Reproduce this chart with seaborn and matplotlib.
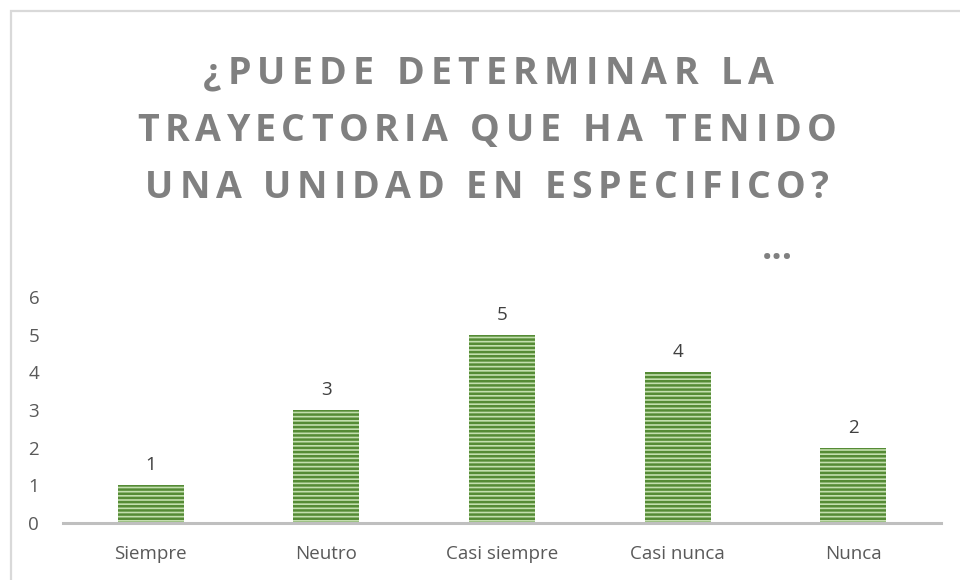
import matplotlib
matplotlib.use("Agg")
import matplotlib.pyplot as plt
import seaborn as sns
import pandas as pd
from matplotlib.patches import Rectangle
from matplotlib.font_manager import FontProperties

categories = ["Siempre", "Neutro", "Casi siempre", "Casi nunca", "Nunca"]
values = [1, 3, 5, 4, 2]
yticks = [0, 1, 2, 3, 4, 5, 6]
title_lines = ["¿PUEDE DETERMINAR LA", "TRAYECTORIA QUE HA TENIDO", "UNA UNIDAD EN ESPECIFICO?"]

sns.set_theme(style="white")
plt.rcParams['font.family'] = ['Open Sans', 'DejaVu Sans']
plt.rcParams['hatch.linewidth'] = 1.8

fig = plt.figure(figsize=(9.6, 5.8), dpi=100)
ax = fig.add_axes([63/960, 1-523/580, (941-63)/960, (523-297)/580])

df = pd.DataFrame({"cat": categories, "val": values})
sns.barplot(data=df, x="cat", y="val", ax=ax, color="#A9D18E", width=0.375,
            saturation=1)
for p in ax.patches:
    p.set_facecolor("#C3DFAE")
    p.set_edgecolor("#558B35")
    p.set_hatch("----")
    p.set_linewidth(0)

for i, v in enumerate(values):
    ax.annotate(str(v), (i, v), xytext=(0, 8), textcoords="offset points",
                ha="center", va="bottom", fontsize=13.5, color="#404040")

ax.set_ylim(0, 6)
ax.set_xlim(-0.5, 4.5)
ax.set_yticks(yticks)
ax.set_xlabel("")
ax.set_ylabel("")
ax.tick_params(axis="y", length=0, pad=21, labelsize=13.5, labelcolor="#595959")
ax.tick_params(axis="x", length=0, pad=16, labelsize=13.5, labelcolor="#595959")
for t in ax.get_yticklabels():
    t.set_ha("center")
for s in ["top", "right", "left"]:
    ax.spines[s].set_visible(False)
ax.spines["bottom"].set_color("#BFBFBF")
ax.spines["bottom"].set_linewidth(2.2)
ax.grid(False)

# outer chart border
fig.patches.append(Rectangle((11/960, -0.2), 1.2, 1.2 - 11/580,
                             transform=fig.transFigure, fill=False,
                             edgecolor="#D9D9D9", linewidth=1.6))

# title with letter spacing (tracking)
renderer = fig.canvas.get_renderer()
prop = FontProperties(family="Open Sans", weight="bold", size=27)


def tw(s):
    return renderer.get_text_width_height_descent(s, prop, ismath=False)[0]


layout = [(203, 774, 84), (137, 837, 141), (145, 829, 198)]
for line, (xl, xr, base) in zip(title_lines, layout):
    n = len(line)
    natural = tw(line)
    track = (xr - xl - natural) / (n - 1)
    hw = tw("H")
    for i, ch in enumerate(line):
        if ch == " ":
            continue
        pos = tw(line[:i] + "H") - hw if i > 0 else 0.0
        x = xl + pos + i * track
        fig.text(x / 960, 1 - base / 580, ch, ha="left", va="baseline",
                 fontproperties=prop, color="#808080")

fig.text(777/960, 1-259/580, "...", ha="center", va="baseline", fontsize=26,
         fontweight="bold", color="#808080")

fig.savefig("out.png", dpi=100)
